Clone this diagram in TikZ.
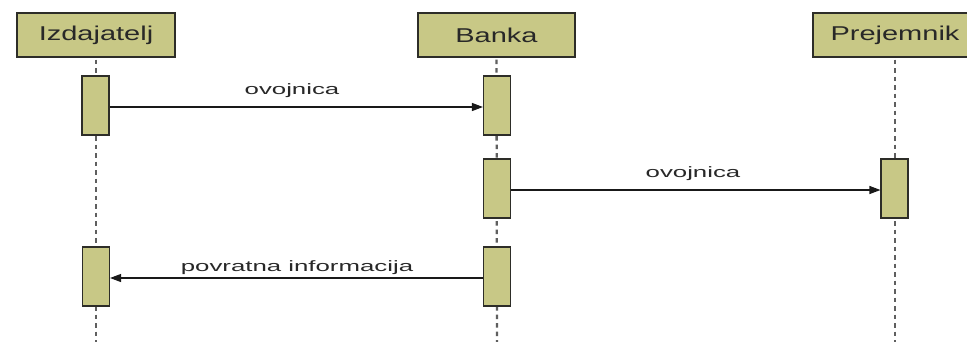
\documentclass[tikz,border=0pt]{standalone}
\usepackage{fontspec}
\setmainfont{Liberation Sans}
\usetikzlibrary{arrows.meta}
\definecolor{boxfill}{RGB}{200,200,134}
\definecolor{boxline}{RGB}{45,45,40}
\definecolor{lifeln}{RGB}{95,95,95}
\definecolor{txt}{RGB}{40,40,40}
\newcommand{\hdrtext}[1]{\scalebox{1.45}[1]{\fontsize{20}{22}\selectfont #1}}
\newcommand{\msgtext}[1]{\scalebox{1.72}[1]{\fontsize{15}{17}\selectfont #1}}
\begin{document}
\begin{tikzpicture}[x=1pt,y=-1pt,
  hdrbox/.style={draw=boxline,fill=boxfill,line width=1.3pt,minimum height=44pt,inner sep=0pt,text=txt},
  actbox/.style={draw=boxline,fill=boxfill,line width=1.1pt,minimum width=27pt,minimum height=59pt,inner sep=0pt},
  lifeline/.style={draw=lifeln,line width=2.3pt,dash pattern=on 4.5pt off 4pt},
  msg/.style={draw=black!90,line width=1.1pt,-{Triangle[length=11pt,width=8pt]}},
  msglabel/.style={anchor=base,text=txt,inner sep=0pt}]
\useasboundingbox (0,0) rectangle (967,341);
\clip (0,0) rectangle (967,341);
\fill[white] (0,0) rectangle (967,341);
% headers
\node[hdrbox,minimum width=158pt] (iz) at (96,35) {\hdrtext{Izdajatelj}};
\node[hdrbox,minimum width=157pt] (ba) at (496.5,35) {\hdrtext{Banka}};
\node[hdrbox,minimum width=164pt] (pr) at (895,35) {\hdrtext{Prejemnik}};
% lifeline ends
\coordinate (izend) at (96,345);
\coordinate (baend) at (497,345);
\coordinate (prend) at (895,345);
\draw[lifeline] (iz.south) ++(0,2) -- (izend);
\draw[lifeline] (ba.south) ++(0,2) -- (baend);
\draw[lifeline] (pr.south) ++(0,2) -- (prend);
% activations
\node[actbox] (i1) at (95.5,105.5) {};
\node[actbox] (b1) at (497,105.5) {};
\node[actbox] (b2) at (497,188.5) {};
\node[actbox] (p1) at (894.5,188.5) {};
\node[actbox] (b3) at (497,276.5) {};
\node[actbox] (i2) at (96,276.5) {};
% messages
\draw[msg] ([yshift=-1.5pt]i1.east) -- ([yshift=-1.5pt]b1.west);
\draw[msg] ([yshift=-1.5pt]b2.east) -- ([yshift=-1.5pt]p1.west);
\draw[msg] ([yshift=-1.5pt]b3.west) -- ([yshift=-1.5pt]i2.east);
% labels
\node[msglabel] (l1) at (292,94) {\msgtext{ovojnica}};
\node[msglabel] (l2) at (693,177) {\msgtext{ovojnica}};
\node[msglabel] (l3) at (297,271) {\msgtext{povratna informacija}};
\end{tikzpicture}
\end{document}
